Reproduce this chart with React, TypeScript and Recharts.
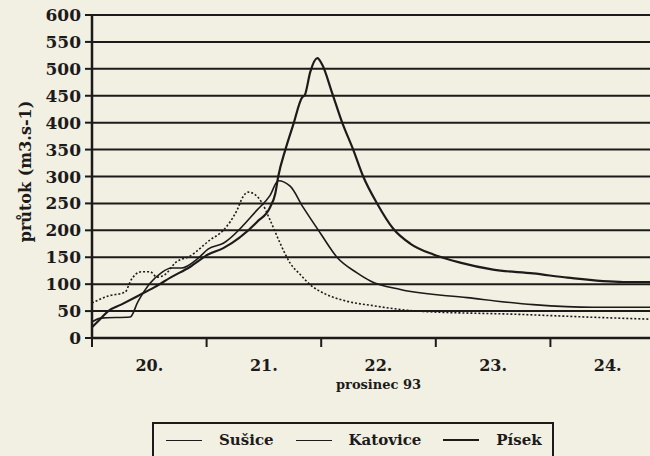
import { LineChart, Line, XAxis, YAxis, CartesianGrid } from "recharts";

const INK = "#1c1b19";
const PAPER = "#f2efe3";
const FONT = "'DejaVu Serif', serif";

// time in hours from 20. prosince 0:00, flow in m3/s
const susiceHours = [0, 3.4, 6.9, 8.2, 10.3, 12.2, 13.6, 15.3, 17.6, 20.5, 24.7, 27.5, 30.4, 31.6, 32.7, 34.2, 35.6, 37.3, 39.4, 41.5, 43.6, 45.7, 48.8, 52.6, 58.9, 68.1, 89.1, 106.5, 117];
const susiceFlow = [65, 78, 85, 108, 123, 123, 113, 118, 141, 152, 182, 200, 238, 262, 271, 266, 251, 219, 176, 139, 118, 99, 82, 70, 60, 50, 44, 38, 35];

const katoviceHours = [0, 1.9, 8.0, 9.6, 12.2, 14.5, 16.6, 18.7, 22.2, 24.3, 27.5, 34.6, 37.3, 39.0, 41.5, 44.2, 47.8, 51.4, 55.5, 58.3, 64.6, 78.6, 92.4, 105, 117];
const katoviceFlow = [30, 37, 39, 67, 102, 121, 130, 130, 148, 165, 176, 238, 265, 292, 282, 243, 195, 149, 121, 106, 90, 75, 62, 57, 57];

const pisekHours = [0, 1.7, 3.4, 6.1, 9.6, 13.2, 16.6, 20.5, 24.3, 27.5, 34.6, 37.3, 38.4, 39.0, 40.5, 42.1, 44.0, 44.6, 45.7, 47.2, 48.2, 50.3, 52.4, 54.7, 56.8, 59.7, 63.1, 66.7, 71.5, 77.1, 84.0, 92.4, 99.6, 111.3, 117];
const pisekFlow = [20, 35, 50, 62, 78, 95, 113, 132, 155, 167, 216, 243, 269, 300, 350, 395, 447, 452, 494, 520, 508, 455, 400, 350, 300, 250, 203, 175, 155, 140, 127, 120, 112, 104, 104];

const dayLabels = ["20.", "21.", "22.", "23.", "24."];
const xTicks = [0, 12, 24, 36, 48, 60, 72, 84, 96, 108, 120];
const yTicks = [0, 50, 100, 150, 200, 250, 300, 350, 400, 450, 500, 550, 600];

const toPoints = (hours: number[], flow: number[]) => hours.map((h, i) => ({ h, q: flow[i] }));

const series = [
  { name: "Sušice", data: toPoints(susiceHours, susiceFlow), width: 1.6, dash: "2 2" },
  { name: "Katovice", data: toPoints(katoviceHours, katoviceFlow), width: 1.6, dash: undefined },
  { name: "Písek", data: toPoints(pisekHours, pisekFlow), width: 2.2, dash: undefined },
];

// day boundaries get a tick mark, half days get the date
function DayTick(props: any) {
  const { x, y, payload } = props;
  const v = payload.value;
  if (v % 24 === 0) {
    return <line x1={x} x2={x} y1={y - 1} y2={y + 7} stroke={INK} strokeWidth={2} />;
  }
  return (
    <text x={x} y={y + 31} textAnchor="middle" fill={INK} fontSize={16} fontWeight="bold" fontFamily={FONT}>
      {dayLabels[Math.floor(v / 24)]}
    </text>
  );
}

export default function App() {
  return (
    <div style={{ position: "absolute", left: 0, top: 0, width: 650, height: 456, overflow: "hidden", background: PAPER }}>
      <LineChart width={665} height={456} margin={{ top: 15, right: 0, bottom: 78, left: 0 }}>
        <CartesianGrid vertical={false} stroke={INK} strokeWidth={2} />
        <XAxis
          type="number"
          dataKey="h"
          domain={[0, 120]}
          ticks={xTicks}
          interval={0}
          height={40}
          tickSize={0}
          tickLine={false}
          axisLine={{ stroke: INK, strokeWidth: 2.5 }}
          tick={<DayTick />}
          label={{
            content: ({ viewBox }: any) => (
              <text
                x={viewBox.x + viewBox.width / 2}
                y={viewBox.y + 51}
                textAnchor="middle"
                fill={INK}
                fontSize={13}
                fontWeight="bold"
                fontFamily={FONT}
              >
                prosinec 93
              </text>
            ),
          }}
        />
        <YAxis
          type="number"
          domain={[0, 600]}
          ticks={yTicks}
          interval={0}
          width={92}
          tickSize={7}
          tickMargin={4}
          tickLine={{ stroke: INK, strokeWidth: 2 }}
          axisLine={{ stroke: INK, strokeWidth: 2.5 }}
          tick={{ fill: INK, fontSize: 17, fontWeight: "bold", fontFamily: FONT }}
          label={{
            content: ({ viewBox }: any) => {
              const cy = viewBox.y + viewBox.height / 2 - 5;
              return (
                <text
                  x={25}
                  y={cy}
                  transform={`rotate(-90, 25, ${cy})`}
                  textAnchor="middle"
                  dominantBaseline="central"
                  fill={INK}
                  fontSize={16}
                  fontWeight="bold"
                  fontFamily={FONT}
                >
                  průtok (m3.s-1)
                </text>
              );
            },
          }}
        />
        {series.map((s) => (
          <Line
            key={s.name}
            data={s.data}
            dataKey="q"
            name={s.name}
            type="monotone"
            stroke={INK}
            strokeWidth={s.width}
            strokeDasharray={s.dash}
            dot={false}
            isAnimationActive={false}
          />
        ))}
      </LineChart>

      {/* legend box, cut off by the bottom edge like in the scan */}
      <div
        style={{
          position: "absolute",
          left: 152,
          top: 422,
          width: 402,
          height: 50,
          border: `2px solid ${INK}`,
          display: "flex",
          alignItems: "flex-start",
          paddingTop: 7,
          boxSizing: "border-box",
          fontFamily: FONT,
          fontWeight: "bold",
          fontSize: 15,
          color: INK,
        }}
      >
        {series.map((s, i) => (
          <div key={s.name} style={{ display: "flex", alignItems: "center", marginLeft: i === 0 ? 12 : 22 }}>
            <div style={{ width: 36, height: 0, borderTop: `${s.width}px solid ${INK}`, marginRight: 17 }} />
            <span>{s.name}</span>
          </div>
        ))}
      </div>
    </div>
  );
}
